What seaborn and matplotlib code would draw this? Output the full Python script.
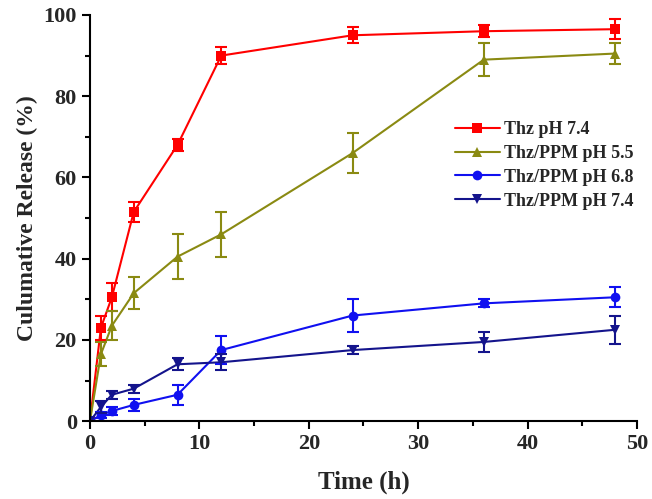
import numpy as np
import pandas as pd
import seaborn as sns
import matplotlib.pyplot as plt
from matplotlib.ticker import MultipleLocator

time_h = [0, 1, 2, 4, 8, 12, 24, 36, 48]
series_names = ["Thz pH 7.4", "Thz/PPM pH 5.5", "Thz/PPM pH 6.8", "Thz/PPM pH 7.4"]

thz_74 = [0, 23, 30.5, 51.5, 68, 90, 95, 96, 96.5]
thz_74_err = [0, 3, 3.5, 2.5, 1.5, 2, 2, 1.5, 2.5]
ppm_55 = [0, 16.5, 23.5, 31.5, 40.5, 46, 66, 89, 90.5]
ppm_55_err = [0, 3, 3.5, 4, 5.5, 5.5, 5, 4, 2.5]
ppm_68 = [0, 1.5, 2.5, 4, 6.5, 17.5, 26, 29, 30.5]
ppm_68_err = [0, 0.8, 1, 1.5, 2.5, 3.5, 4, 1, 2.5]
ppm_74 = [0, 3.5, 6.5, 8, 14, 14.5, 17.5, 19.5, 22.5]
ppm_74_err = [0, 1.5, 1, 1, 1.5, 2, 1, 2.5, 3.5]

values = [thz_74, ppm_55, ppm_68, ppm_74]
errors = [thz_74_err, ppm_55_err, ppm_68_err, ppm_74_err]
colors = ["#FF0000", "#8A8A12", "#1010F0", "#14148C"]
markers = ["s", "^", "o", "v"]

df = pd.DataFrame({
    "time": time_h * 4,
    "release": sum(values, []),
    "err": sum(errors, []),
    "sample": [n for n in series_names for _ in time_h],
})

sns.set_theme(style="ticks")
plt.rcParams["font.family"] = ["Liberation Serif", "DejaVu Serif"]
plt.rcParams["font.weight"] = "bold"

fig, ax = plt.subplots(figsize=(6.52, 4.99), dpi=100)
fig.subplots_adjust(left=0.138, right=0.977, bottom=0.156, top=0.97)

sns.lineplot(
    data=df, x="time", y="release", hue="sample", style="sample",
    hue_order=series_names, style_order=series_names,
    palette=dict(zip(series_names, colors)),
    markers=dict(zip(series_names, markers)), dashes=False,
    markersize=7, markeredgewidth=0, linewidth=1.5, ax=ax,
)

# error bars on top of the seaborn lines
for name, col in zip(series_names, colors):
    sub = df[df["sample"] == name]
    ax.errorbar(sub["time"], sub["release"], yerr=sub["err"], fmt="none",
                ecolor=col, elinewidth=1.5, capsize=4, capthick=1.5)

ax.set_xlim(0, 50)
ax.set_ylim(0, 100)
ax.xaxis.set_major_locator(MultipleLocator(10))
ax.xaxis.set_minor_locator(MultipleLocator(5))
ax.yaxis.set_major_locator(MultipleLocator(20))
ax.yaxis.set_minor_locator(MultipleLocator(10))
ax.tick_params(axis="both", which="major", direction="out", length=6, width=1.5,
               labelsize=16, color="black")
ax.tick_params(axis="both", which="minor", direction="out", length=3.5, width=1.5,
               color="black")
for lab in ax.get_xticklabels() + ax.get_yticklabels():
    lab.set_fontweight("bold")

sns.despine(ax=ax)
for s in ["left", "bottom"]:
    ax.spines[s].set_linewidth(1.5)
    ax.spines[s].set_color("black")

ax.set_xlabel("Time (h)", fontsize=18, fontweight="bold", labelpad=12)
ax.set_ylabel("Culumative Release (%)", fontsize=17, fontweight="bold")

ax.legend(loc="upper left", bbox_to_anchor=(0.667, 0.739), frameon=False,
          prop={"size": 13, "weight": "bold"}, handlelength=2.5,
          labelspacing=0.38, handletextpad=0.2, borderpad=0, borderaxespad=0)

plt.savefig("out.png", dpi=100)
